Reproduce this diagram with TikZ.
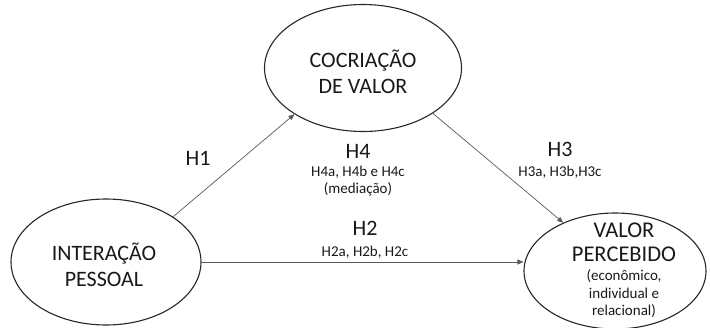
\documentclass[tikz,border=0pt]{standalone}
\usepackage{fontspec}
\setmainfont{Carlito}
\usetikzlibrary{arrows.meta, shapes.geometric}

\begin{document}
\begin{tikzpicture}[x=1pt, y=-1pt,
    construct/.style={ellipse, draw=black!85, line width=1.1pt, inner sep=0},
    hpath/.style={draw=black!65, line width=0.7pt, -{Triangle[length=6pt, width=5pt]}},
    bigtext/.style={text=black!90, font=\fontsize{22}{26}\selectfont, inner sep=0, align=center},
    smalltext/.style={text=black!90, font=\fontsize{15}{17.5}\selectfont, inner sep=0, align=center}]
    \useasboundingbox (0,0) rectangle (710,327);

    % Constructs (ellipses) and their names
    \node[construct, minimum width=190pt, minimum height=126pt] (inter) at (106,262) {};
    \node[construct, minimum width=197pt, minimum height=127pt] (cocri) at (363,68) {};
    \node[construct, minimum width=182pt, minimum height=116pt] (valor) at (615,271) {};

    \node[bigtext] (intertext) at (104,265) {INTERAÇÃO\\PESSOAL};
    \node[bigtext] (cocritext) at (363,72) {COCRIAÇÃO\\DE VALOR};
    \node[bigtext, font=\fontsize{22.5}{24}\selectfont] (valortext) at (624,242) {VALOR\\PERCEBIDO};
    \node[smalltext] (valornote) at (624,294) {(econômico,\\individual e\\relacional)};

    % Hypotheses (paths)
    \draw[hpath] (inter.34) -- (cocri.214);
    \draw[hpath] (cocri.-33) -- (valor.137);
    \draw[hpath] (inter.east) -- (inter.east -| valor.west);

    % Path labels
    \node[bigtext] (h1) at (198,158) {H1};
    \node[bigtext] (h4) at (358,151) {H4};
    \node[smalltext] (h4sub) at (358,181) {H4a, H4b e H4c\\(mediação)};
    \node[bigtext] (h3) at (560,149) {H3};
    \node[smalltext] (h3sub) at (560,172) {H3a, H3b,H3c};
    \node[bigtext] (h2) at (365,228) {H2};
    \node[smalltext] (h2sub) at (365,252) {H2a, H2b, H2c};
\end{tikzpicture}
\end{document}
